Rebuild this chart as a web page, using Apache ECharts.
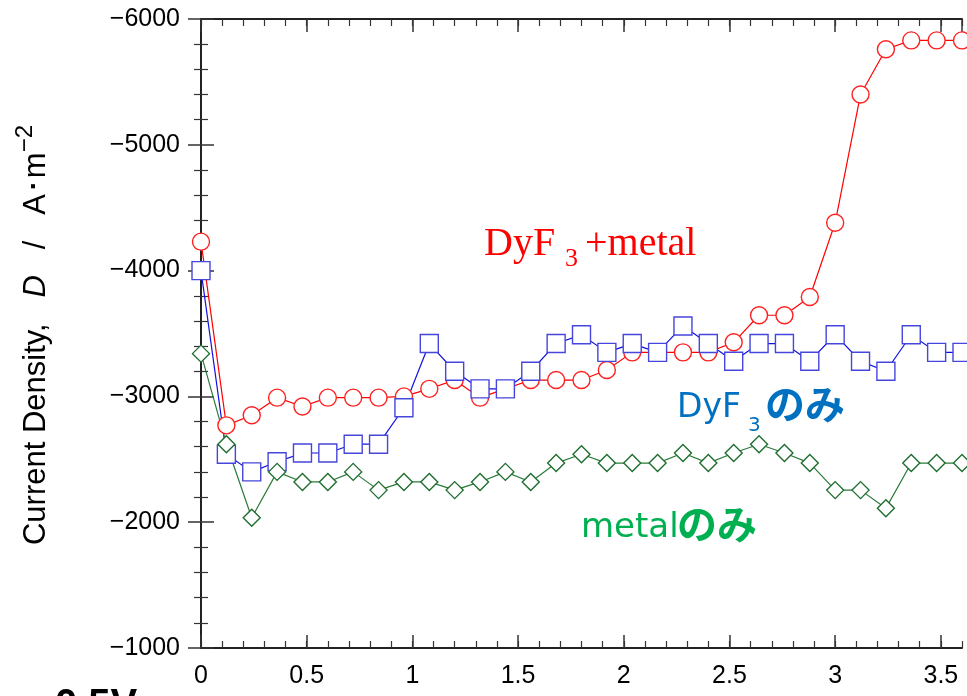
<!DOCTYPE html>
<html>
<head>
<meta charset="utf-8">
<script src="https://cdn.jsdelivr.net/npm/echarts@6/dist/echarts.min.js"></script>
<style>
  html, body { margin: 0; padding: 0; background: #fff; }
  #chart { width: 967px; height: 696px; }
</style>
</head>
<body>
<div id="chart"></div>
<script>
// 電位 (x) と電流密度 (y)
const potential = [0, 0.12, 0.24, 0.36, 0.48, 0.6, 0.72, 0.84, 0.96, 1.08, 1.2, 1.32, 1.44, 1.56, 1.68, 1.8,
  1.92, 2.04, 2.16, 2.28, 2.4, 2.52, 2.64, 2.76, 2.88, 3.0, 3.12, 3.24, 3.36, 3.48, 3.6];
const dyf3Metal = [-4230, -2770, -2850, -2990, -2920, -2990, -2990, -2990, -3000, -3060, -3130, -2990, -3060,
  -3130, -3130, -3130, -3210, -3350, -3350, -3350, -3350, -3430, -3645, -3645, -3790, -4380, -5400, -5760,
  -5830, -5830, -5830];
const dyf3Only = [-4000, -2540, -2400, -2480, -2550, -2550, -2620, -2620, -2910, -3420, -3200, -3060, -3060,
  -3200, -3420, -3490, -3350, -3420, -3350, -3560, -3420, -3280, -3420, -3420, -3280, -3490, -3280, -3200,
  -3490, -3350, -3350];
const metalOnly = [-3340, -2620, -2035, -2400, -2320, -2320, -2400, -2255, -2320, -2320, -2255, -2320, -2400,
  -2320, -2470, -2540, -2470, -2470, -2470, -2550, -2470, -2550, -2620, -2550, -2470, -2255, -2255, -2110,
  -2470, -2470, -2470];

const chart = echarts.init(document.getElementById('chart'));

const axisColor = '#222';
const minus = v => String(v).replace('-', '\u2212');

// 主目盛り用と副目盛り用の軸を重ねる
function xAxisPair(position, withLabel) {
  return [
    {
      type: 'value', position: position, min: 0, max: 3.6, interval: 0.5,
      axisLine: { show: true, lineStyle: { color: axisColor, width: 2 } },
      axisTick: { show: true, inside: true, length: 13, lineStyle: { color: '#333', width: 1.5 } },
      axisLabel: {
        show: withLabel, margin: 16, showMaxLabel: false,
        fontFamily: 'Liberation Sans', fontSize: 25, color: '#000'
      },
      splitLine: { show: false }
    },
    {
      type: 'value', position: position, min: 0, max: 3.6, interval: 0.1,
      axisLine: { show: false },
      axisTick: { show: true, inside: true, length: 7, lineStyle: { color: '#333', width: 1.2 } },
      axisLabel: { show: false },
      splitLine: { show: false }
    }
  ];
}

function yAxisOf(position, withLabel) {
  return {
    type: 'value', position: position, min: -6000, max: -1000, interval: 1000, inverse: true,
    axisLine: { show: true, lineStyle: { color: axisColor, width: 2 } },
    axisTick: { show: true, inside: true, length: 13, lineStyle: { color: '#333', width: 1.5 } },
    minorTick: { show: true, splitNumber: 5, length: 7, lineStyle: { color: '#333', width: 1.2 } },
    axisLabel: {
      show: withLabel, margin: 21, formatter: minus,
      fontFamily: 'Liberation Sans', fontSize: 25, color: '#000'
    },
    splitLine: { show: false },
    minorSplitLine: { show: false }
  };
}

function makeSeries(values, symbol, size, lineColor, borderColor) {
  return {
    type: 'line',
    data: potential.map((x, i) => [x, values[i]]),
    xAxisIndex: 0, yAxisIndex: 0,
    symbol: symbol, symbolSize: size, showAllSymbol: true,
    lineStyle: { color: lineColor, width: 1.2 },
    itemStyle: { color: '#fff', borderColor: borderColor, borderWidth: 1.4 },
    emphasis: { disabled: true },
    clip: false,
    animation: false
  };
}

const option = {
  animation: false,
  grid: { left: 201, top: 19, right: 5, bottom: 48, outerBoundsMode: 'none' },
  xAxis: [...xAxisPair('bottom', true), ...xAxisPair('top', false)],
  yAxis: [yAxisOf('left', true), yAxisOf('right', false)],
  series: [
    makeSeries(dyf3Metal, 'circle', 17, '#ff0000', '#ff2020'),
    makeSeries(dyf3Only, 'rect', 18, '#1010e0', '#4646dc'),
    makeSeries(metalOnly, 'diamond', 17, '#2a7a3a', '#1f6e30')
  ],
  graphic: [
    // DyF3 +metal
    { type: 'text', x: 484, y: 244.5, style: { text: 'DyF', font: '40px "Liberation Serif"', fill: '#ff0000', textAlign: 'left', textVerticalAlign: 'middle' } },
    { type: 'text', x: 565, y: 259, style: { text: '3', font: '26px "Liberation Serif"', fill: '#ff0000', textAlign: 'left', textVerticalAlign: 'middle' } },
    { type: 'text', x: 585, y: 244.5, style: { text: '+metal', font: '40px "Liberation Serif"', fill: '#ff0000', textAlign: 'left', textVerticalAlign: 'middle' } },
    // DyF3のみ
    { type: 'text', x: 677, y: 408.5, style: { text: 'DyF', font: '33px "DejaVu Sans"', fill: '#0070c0', textAlign: 'left', textVerticalAlign: 'middle' } },
    { type: 'text', x: 748, y: 426, style: { text: '3', font: '20px "DejaVu Sans"', fill: '#0070c0', textAlign: 'left', textVerticalAlign: 'middle' } },
    { type: 'text', x: 765, y: 404, style: { text: 'のみ', font: 'bold 40px "Noto Sans CJK JP"', fill: '#0070c0', textAlign: 'left', textVerticalAlign: 'middle' } },
    // metalのみ
    { type: 'text', x: 581, y: 528, style: { text: 'metal', font: '34px "DejaVu Sans"', fill: '#00b050', textAlign: 'left', textVerticalAlign: 'middle' } },
    { type: 'text', x: 677, y: 524, style: { text: 'のみ', font: 'bold 40px "Noto Sans CJK JP"', fill: '#00b050', textAlign: 'left', textVerticalAlign: 'middle' } },
    // 縦軸タイトル
    {
      type: 'text', x: 36, y: 335, rotation: Math.PI / 2,
      style: {
        text: '{t|Current Density,   }{i|D}{t|   /   A･m}{sup|\u22122}',
        font: '31px "Liberation Sans"', fill: '#000', textAlign: 'center', textVerticalAlign: 'middle',
        rich: {
          t: { fontFamily: 'Liberation Sans', fontSize: 31, lineHeight: 46, fill: '#000' },
          i: { fontFamily: 'Liberation Sans', fontSize: 31, lineHeight: 46, fontStyle: 'italic', fill: '#000' },
          sup: { fontFamily: 'Liberation Sans', fontSize: 24, lineHeight: 24, fill: '#000', verticalAlign: 'top' }
        }
      }
    },
    // 下端で切れている条件ラベル
    { type: 'text', x: 55, y: 706, style: { text: '0.5V', font: 'bold 40px "Liberation Sans"', fill: '#000', textAlign: 'left', textVerticalAlign: 'middle' } }
  ]
};

chart.setOption(option);
</script>
</body>
</html>
